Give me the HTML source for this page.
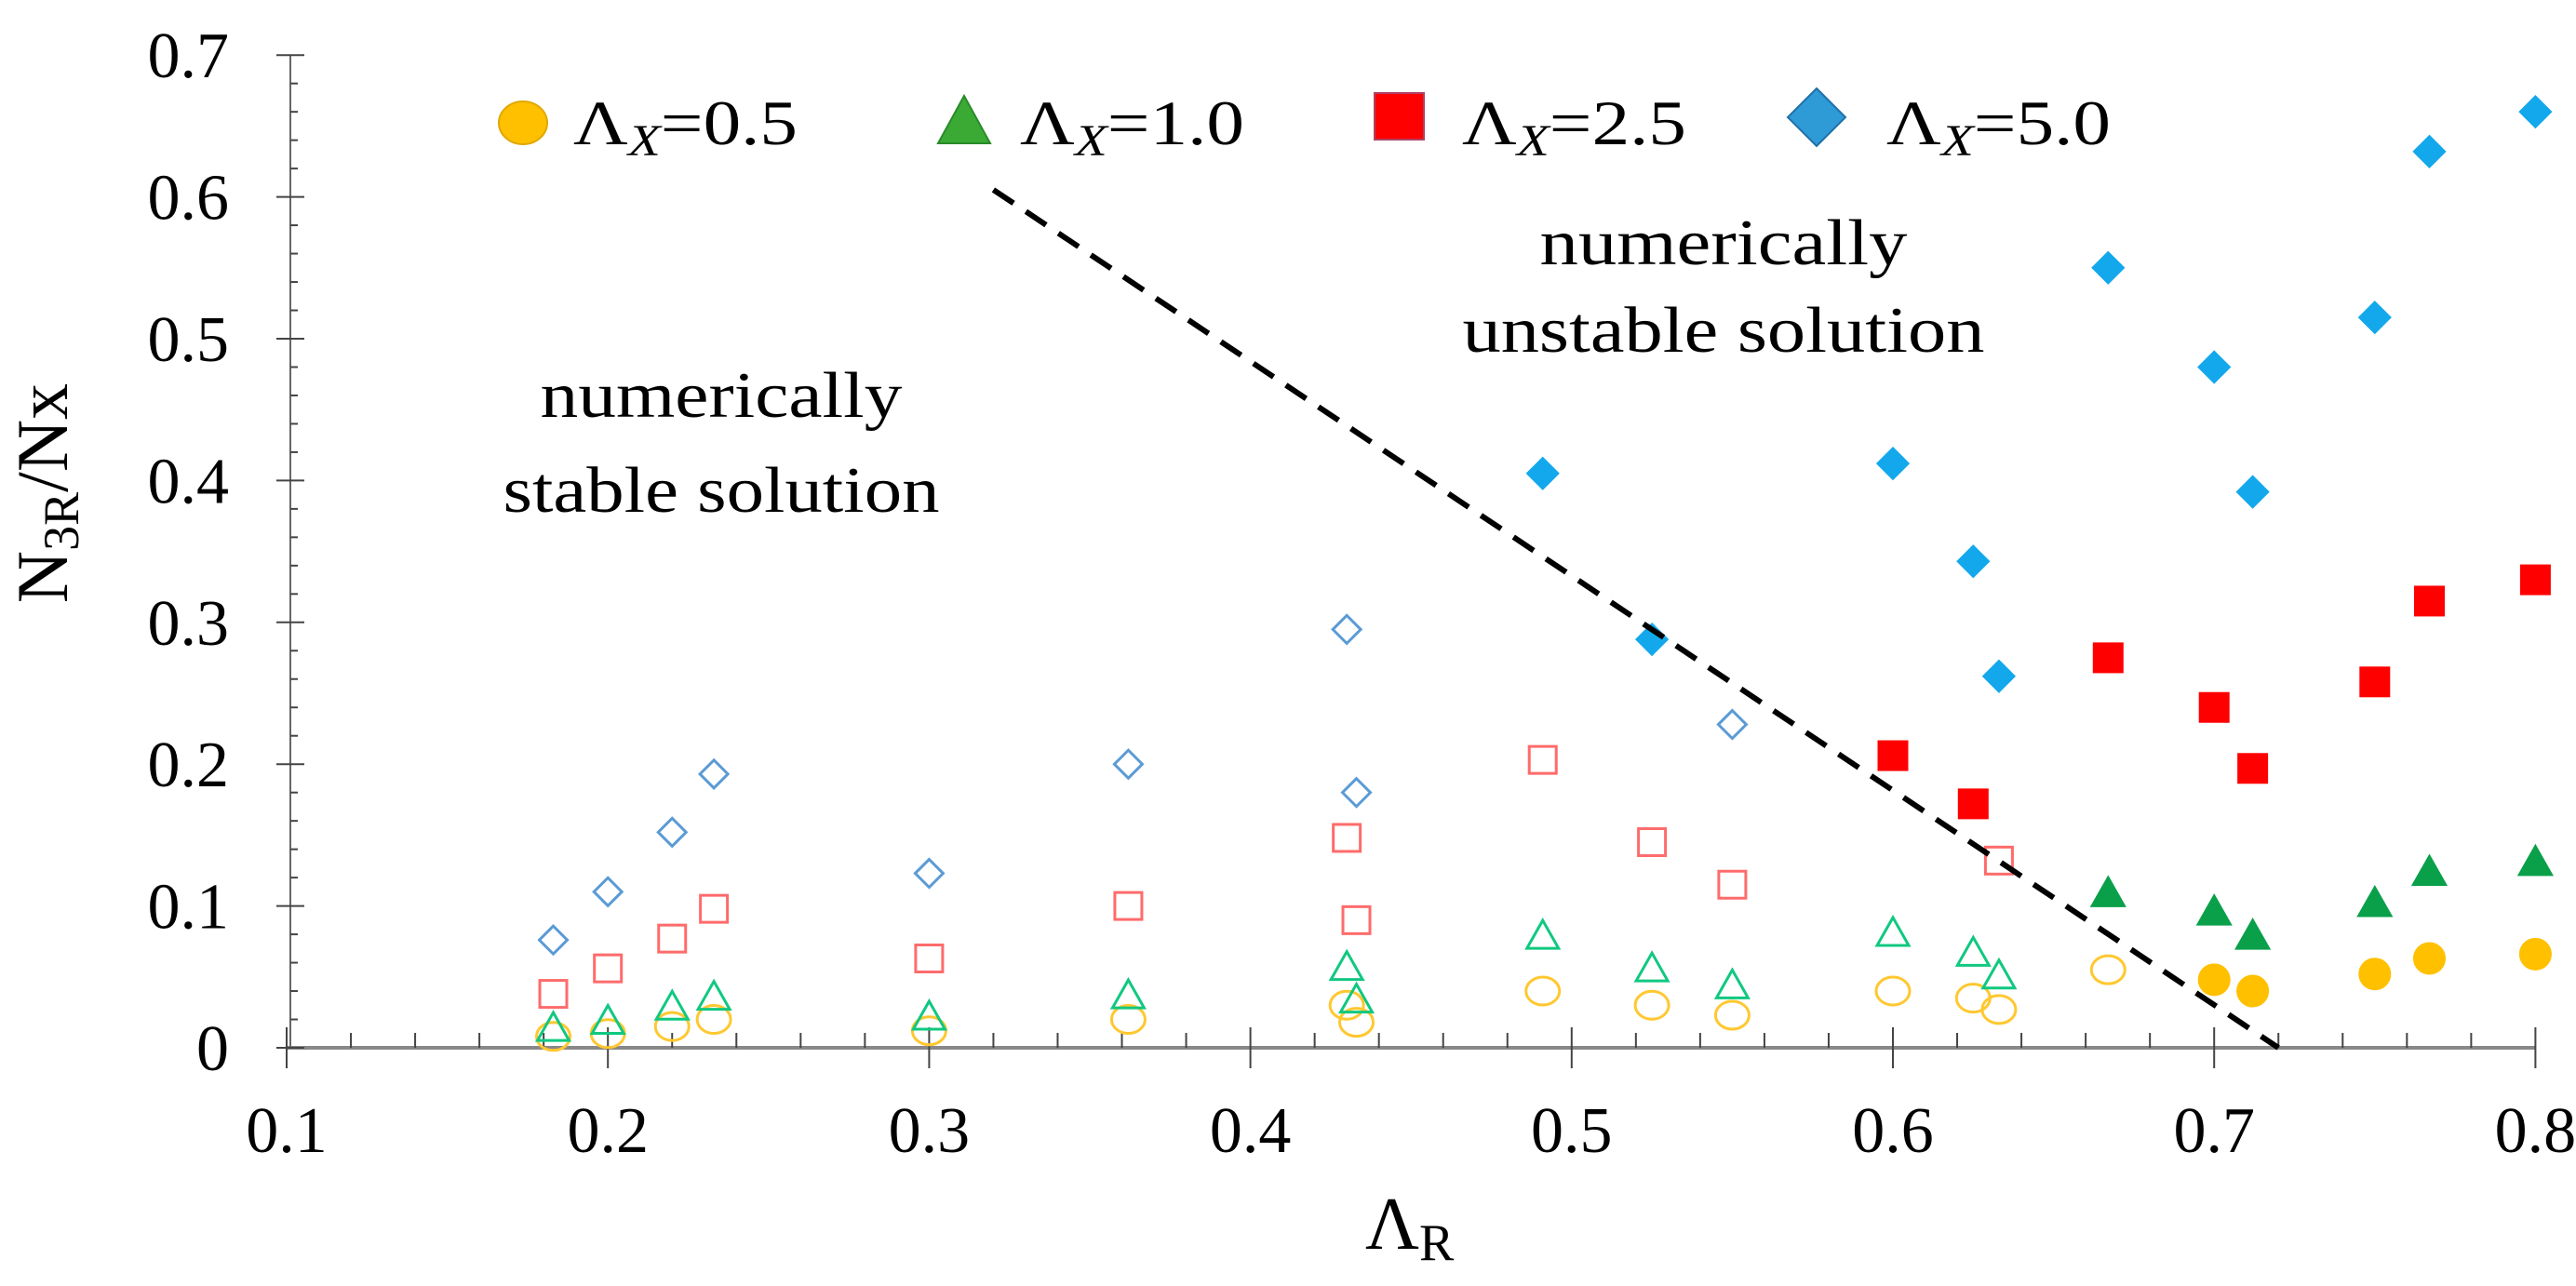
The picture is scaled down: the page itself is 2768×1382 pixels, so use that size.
<!DOCTYPE html>
<html><head><meta charset="utf-8"><style>
html,body{margin:0;padding:0;background:#fff;}
svg{display:block;font-family:"Liberation Serif",serif;}
</style></head><body>
<svg id="chart" width="2768" height="1382" viewBox="0 0 2768 1382" xmlns="http://www.w3.org/2000/svg">
<g id="axes"></g>
<g id="marks"></g>
<line id="boundary" stroke="#000" stroke-width="6" stroke-dasharray="26,16"/>
<g font-size="68">
 <ellipse cx="562" cy="132" rx="26" ry="23" fill="#FFC000" stroke="#E0A800" stroke-width="2"/>
 <text x="616" y="155" textLength="241" lengthAdjust="spacingAndGlyphs">Λ<tspan font-style="italic" font-size="48" dy="12">X</tspan><tspan dy="-12">=0.5</tspan></text>
 <polygon points="1036,103 1064,154 1008,154" fill="#3AAA35" stroke="#2a8a2a" stroke-width="2"/>
 <text x="1096" y="155" textLength="241" lengthAdjust="spacingAndGlyphs">Λ<tspan font-style="italic" font-size="48" dy="12">X</tspan><tspan dy="-12">=1.0</tspan></text>
 <rect x="1477" y="100" width="53" height="50" fill="#FF0000" stroke="#b04060" stroke-width="2"/>
 <text x="1571" y="155" textLength="241" lengthAdjust="spacingAndGlyphs">Λ<tspan font-style="italic" font-size="48" dy="12">X</tspan><tspan dy="-12">=2.5</tspan></text>
 <polygon points="1952,95 1983,126 1952,157 1921,126" fill="#2E9AD6" stroke="#2070a8" stroke-width="2"/>
 <text x="2027" y="155" textLength="241" lengthAdjust="spacingAndGlyphs">Λ<tspan font-style="italic" font-size="48" dy="12">X</tspan><tspan dy="-12">=5.0</tspan></text>
</g>
<g font-size="70" text-anchor="middle">
 <text x="775" y="448" textLength="389" lengthAdjust="spacingAndGlyphs">numerically</text>
 <text x="775" y="550" textLength="469" lengthAdjust="spacingAndGlyphs">stable solution</text>
 <text x="1852" y="284" textLength="395" lengthAdjust="spacingAndGlyphs">numerically</text>
 <text x="1852" y="378" textLength="561" lengthAdjust="spacingAndGlyphs">unstable solution</text>
</g>
<text transform="translate(72,530) rotate(-90)" text-anchor="middle" font-size="78">N<tspan font-size="54" dy="12">3R</tspan><tspan dy="-12">/Nx</tspan></text>
<text x="1467" y="1342" font-size="80">Λ<tspan font-size="56" dy="12">R</tspan></text>
</svg>
<script>
const xTicks = [0.1,0.2,0.3,0.4,0.5,0.6,0.7,0.8];
const yTicks = [0,0.1,0.2,0.3,0.4,0.5,0.6,0.7];
const c05OpenX = [0.183,0.2,0.22,0.233,0.3,0.362,0.43,0.433,0.491,0.525,0.55,0.6,0.625,0.633,0.667];
const c05OpenY = [0.008,0.01,0.015,0.02,0.012,0.02,0.03,0.018,0.04,0.03,0.023,0.04,0.035,0.027,0.055];
const c05FillX = [0.7,0.712,0.75,0.767,0.8];
const c05FillY = [0.048,0.04,0.052,0.063,0.066];
const t10OpenX = [0.183,0.2,0.22,0.233,0.3,0.362,0.43,0.433,0.491,0.525,0.55,0.6,0.625,0.633];
const t10OpenY = [0.015,0.02,0.03,0.037,0.023,0.038,0.058,0.035,0.08,0.057,0.045,0.082,0.068,0.052];
const t10FillX = [0.667,0.7,0.712,0.75,0.767,0.8];
const t10FillY = [0.11,0.097,0.08,0.103,0.125,0.132];
const s25OpenX = [0.183,0.2,0.22,0.233,0.3,0.362,0.43,0.433,0.491,0.525,0.55,0.633];
const s25OpenY = [0.038,0.056,0.077,0.098,0.063,0.1,0.148,0.09,0.203,0.145,0.115,0.132];
const s25FillX = [0.6,0.625,0.667,0.7,0.712,0.75,0.767,0.8];
const s25FillY = [0.206,0.172,0.275,0.24,0.197,0.258,0.315,0.33];
const d50OpenX = [0.183,0.2,0.22,0.233,0.3,0.362,0.43,0.433,0.55];
const d50OpenY = [0.076,0.11,0.152,0.193,0.123,0.2,0.295,0.18,0.228];
const d50FillX = [0.491,0.525,0.6,0.625,0.633,0.667,0.7,0.712,0.75,0.767,0.8];
const d50FillY = [0.405,0.288,0.412,0.343,0.262,0.55,0.48,0.392,0.515,0.632,0.66];
const boundaryX = [0.32,0.72];
const boundaryY = [0.605,0.0];

const NS="http://www.w3.org/2000/svg";
const sx = v => 308 + (v-0.1)*3452;
const sy = v => 1126 - v*1524;
function mk(tag, attrs, parent){const e=document.createElementNS(NS,tag);for(const k in attrs)e.setAttribute(k,attrs[k]);parent.appendChild(e);return e;}
const axes=document.getElementById('axes'), marks=document.getElementById('marks');
let el;
el=mk('line',{x1:sx(0.1),y1:sy(0),x2:sx(0.8),y2:sy(0),stroke:'#888','stroke-width':4},axes);


el=mk('line',{x1:312,y1:sy(0),x2:312,y2:sy(0.7),stroke:'#666','stroke-width':2},axes);


for(let i=0;i<=35;i++){
  const v=0.1+i*0.02, major=i%5===0;
  el=mk('line',{x1:sx(v),x2:sx(v),y1:major?sy(0)-22:sy(0)-16,y2:major?sy(0)+22:sy(0),stroke:'#444','stroke-width':2},axes);
  
  
}
for(let i=0;i<=35;i++){
  const v=i*0.02, major=i%5===0;
  el=mk('line',{x1:major?297:312,x2:major?327:320,y1:sy(v),y2:sy(v),stroke:'#444','stroke-width':2},axes);
  
  
}
xTicks.forEach(v=>{
  el=mk('text',{x:sx(v),y:1238,'text-anchor':'middle','font-size':70},axes);
  el.textContent=v.toFixed(1);
  
  
});
yTicks.forEach(v=>{
  el=mk('text',{x:246,y:sy(v)+24,'text-anchor':'end','font-size':70},axes);
  el.textContent=v===0?'0':v.toFixed(1);
  
  
});
function circle(x,y,fill){
  el=mk('ellipse',{cx:sx(x),cy:sy(y),rx:fill?16:18,ry:fill?16:15,fill:fill?'#FFC000':'none',stroke:fill?'#FFC000':'#FFC830','stroke-width':3},marks);
  
  
}
function tri(x,y,fill){
  const cx=sx(x),cy=sy(y),h=30,w=17;
  el=mk('polygon',{points:`${cx},${cy-h/2} ${cx+w},${cy+h/2} ${cx-w},${cy+h/2}`,fill:fill?'#0AA04A':'none',stroke:fill?'#0AA04A':'#10C880','stroke-width':3},marks);
  
  
}
function sq(x,y,fill){
  const s=fill?30:29;
  el=mk('rect',{x:sx(x)-s/2,y:sy(y)-s/2,width:s,height:s,fill:fill?'#F00':'none',stroke:fill?'#F00':'#FF6B6B','stroke-width':3},marks);
  
  
}
function dia(x,y,fill){
  const cx=sx(x),cy=sy(y),r=fill?16:15;
  el=mk('polygon',{points:`${cx},${cy-r} ${cx+r},${cy} ${cx},${cy+r} ${cx-r},${cy}`,fill:fill?'#13A8EC':'none',stroke:fill?'#13A8EC':'#5B9BD5','stroke-width':3},marks);
  
  
}
c05OpenX.forEach((x,i)=>circle(x,c05OpenY[i],false));
c05FillX.forEach((x,i)=>circle(x,c05FillY[i],true));
t10OpenX.forEach((x,i)=>tri(x,t10OpenY[i],false));
t10FillX.forEach((x,i)=>tri(x,t10FillY[i],true));
s25OpenX.forEach((x,i)=>sq(x,s25OpenY[i],false));
s25FillX.forEach((x,i)=>sq(x,s25FillY[i],true));
d50OpenX.forEach((x,i)=>dia(x,d50OpenY[i],false));
d50FillX.forEach((x,i)=>dia(x,d50FillY[i],true));
const b=document.getElementById('boundary');
b.setAttribute('x1',sx(boundaryX[0]));b.setAttribute('y1',sy(boundaryY[0]));
b.setAttribute('x2',sx(boundaryX[1]));b.setAttribute('y2',sy(boundaryY[1]));
</script>
</body></html>
